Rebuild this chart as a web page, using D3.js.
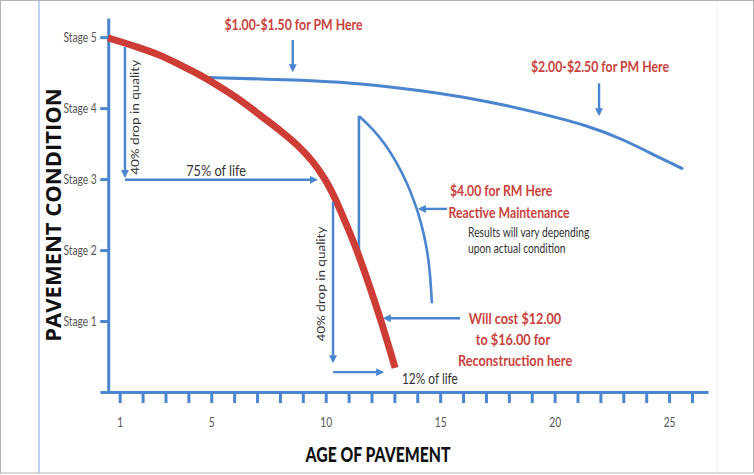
<!DOCTYPE html>
<html>
<head>
<meta charset="utf-8">
<script src="https://cdn.jsdelivr.net/npm/d3@7"></script>
<style>
  html, body { margin: 0; padding: 0; background: #fff; }
  svg { display: block; font-family: Lato, "Liberation Sans", sans-serif; }
</style>
</head>
<body>
<svg id="chart" width="754" height="475"></svg>
<script>
// pavement deterioration with no maintenance (red)
const agingYear  = [0.49, 1.89, 2.76, 3.63, 4.51, 5.38, 6.26, 7.13, 8.00, 8.88, 9.44, 9.97, 10.45, 11.06, 11.41, 11.93, 12.59, 13.03];
const agingStage = [4.99, 4.85, 4.75, 4.61, 4.47, 4.30, 4.12, 3.90, 3.69, 3.45, 3.25, 3.01, 2.71, 2.24, 1.96, 1.48, 0.83, 0.34];

// preventive maintenance curve
const pmYear  = [4.95, 8.44, 10.62, 12.81, 14.99, 17.18, 19.36, 21.54, 22.99, 24.47, 25.56];
const pmStage = [4.43, 4.40, 4.37, 4.30, 4.21, 4.09, 3.93, 3.745, 3.56, 3.32, 3.15];

// reactive maintenance: jump up at year 11.45, then curve down
const rmJumpYear  = [11.45, 11.45];
const rmJumpStage = [1.92, 3.89];
const rmYear  = [11.45, 12.02, 12.59, 13.11, 13.55, 13.90, 14.16, 14.42, 14.56, 14.64];
const rmStage = [3.89, 3.72, 3.50, 3.23, 2.95, 2.66, 2.40, 2.04, 1.68, 1.25];

// axes
const xTickYears  = [1,2,3,4,5,6,7,8,9,10,11,12,13,14,15,16,17,18,19,20,21,22,23,24,25,26];
const xLabelYears = [1, 5, 10, 15, 20, 25];
const stageTicks  = [1, 2, 3, 4, 5];
const stageLabels = ["Stage 1", "Stage 2", "Stage 3", "Stage 4", "Stage 5"];

// arrows (year, stage)
const arrows = [
  {x1: 8.56,  y1: 4.96, x2: 8.56,  y2: 4.54},
  {x1: 21.94, y1: 4.35, x2: 21.94, y2: 3.92},
  {x1: 1.23,  y1: 4.86, x2: 1.23,  y2: 3.05},
  {x1: 1.23,  y1: 2.99, x2: 9.55,  y2: 2.99},
  {x1: 10.32, y1: 2.68, x2: 10.32, y2: 0.44},
  {x1: 10.32, y1: 0.28, x2: 12.45, y2: 0.28},
  {x1: 15.3,  y1: 2.58, x2: 14.13, y2: 2.58},
  {x1: 15.87, y1: 1.04, x2: 12.6,  y2: 1.04}
];

// red annotations (year, stage of baseline)
const redNotes = [
  {text: "$1.00-$1.50 for PM Here", year: 8.59,  stage: 5.10, size: 15},
  {text: "$2.00-$2.50 for PM Here", year: 21.98, stage: 4.51, size: 15},
  {text: "$4.00 for RM Here",       year: 17.66, stage: 2.76, size: 15},
  {text: "Reactive Maintenance",    year: 18.01, stage: 2.45, size: 15},
  {text: "Will cost $12.00",        year: 18.27, stage: 0.96, size: 15.5},
  {text: "to $16.00 for",           year: 18.18, stage: 0.66, size: 15.5},
  {text: "Reconstruction here",     year: 18.27, stage: 0.37, size: 15.5}
];

// dark annotations
const darkNotes = [
  {text: "75% of life",                 year: 5.21,  stage: 3.04, size: 15.5, anchor: "middle"},
  {text: "12% of life",                 year: 13.33, stage: 0.11, size: 14.5, anchor: "start"},
  {text: "Results will vary depending", year: 16.22, stage: 2.18, size: 12.5, anchor: "start"},
  {text: "upon actual condition",       year: 16.22, stage: 1.96, size: 12.5, anchor: "start"}
];

// rotated "40% drop" labels
const dropNotes = [
  {text: "40% drop in quality", year: 1.85, stage: 3.87},
  {text: "40% drop in quality", year: 9.96, stage: 1.52}
];

const blue = "#4a85cf", red = "#cd3c35", redText = "#c9433d", dark = "#333";
const squeeze = 0.82;

const svg = d3.select("#chart");
const x = d3.scaleLinear().domain([0.14, 26.7]).range([100, 708]);
const y = d3.scaleLinear().domain([0, 5.27]).range([392, 18]);

// frame
svg.append("rect").attr("x", 0.5).attr("y", 0.5).attr("width", 753).attr("height", 472.5)
  .attr("fill", "#fff").attr("stroke", "#b4b4b4");
svg.append("line").attr("x1", 39).attr("x2", 39).attr("y1", 1).attr("y2", 473)
  .attr("stroke", "#a9c5ea").attr("stroke-width", 1.5);
svg.append("line").attr("x1", 717).attr("x2", 717).attr("y1", 1).attr("y2", 473)
  .attr("stroke", "#eef3fa").attr("stroke-width", 1);

svg.append("defs").append("marker")
  .attr("id", "head").attr("viewBox", "0 0 10 10")
  .attr("refX", 7).attr("refY", 5)
  .attr("markerWidth", 8).attr("markerHeight", 8)
  .attr("markerUnits", "userSpaceOnUse").attr("orient", "auto")
  .append("path").attr("d", "M0,0L10,5L0,10Z").attr("fill", blue);

// axes
const xAxis = svg.append("g")
  .attr("transform", `translate(0,${y(0)})`)
  .call(d3.axisBottom(x).tickValues(xTickYears).tickSize(11).tickSizeOuter(0).tickPadding(15)
    .tickFormat(d => xLabelYears.includes(d) ? d : ""));

const yAxis = svg.append("g")
  .attr("transform", `translate(${x(0.5)},0)`)
  .call(d3.axisLeft(y).tickValues(stageTicks).tickSize(8).tickSizeOuter(0).tickPadding(6)
    .tickFormat((d, i) => stageLabels[i]));

[xAxis, yAxis].forEach(g => {
  g.selectAll(".domain, .tick line").attr("stroke", blue).attr("stroke-width", 3);
  g.selectAll(".tick text").attr("fill", "#555").attr("font-size", 12.5)
    .attr("font-family", "Lato, sans-serif").attr("transform", `scale(${squeeze},1)`);
});

// axis titles
svg.append("text").text("AGE OF PAVEMENT")
  .attr("transform", `translate(378,462) scale(0.75,1)`)
  .attr("text-anchor", "middle").attr("font-size", 21).attr("font-weight", 900).attr("fill", "#111");
svg.append("text").text("PAVEMENT CONDITION")
  .attr("transform", "translate(61,215) rotate(-90)")
  .attr("text-anchor", "middle").attr("font-family", "'Open Sans', sans-serif")
  .attr("font-size", 22).attr("font-weight", 700).attr("fill", "#111");

// curves
const pts = (xs, ys) => xs.map((v, i) => [v, ys[i]]);
const smooth = d3.line().x(d => x(d[0])).y(d => y(d[1])).curve(d3.curveBasis);
const straight = d3.line().x(d => x(d[0])).y(d => y(d[1]));

svg.append("path").attr("d", straight(pts(rmJumpYear, rmJumpStage)))
  .attr("fill", "none").attr("stroke", blue).attr("stroke-width", 2.6);
svg.append("path").attr("d", smooth(pts(rmYear, rmStage)))
  .attr("fill", "none").attr("stroke", blue).attr("stroke-width", 2.6);

svg.append("path").attr("d", smooth(pts(pmYear, pmStage)))
  .attr("fill", "none").attr("stroke", blue).attr("stroke-width", 3).attr("stroke-linecap", "round");

svg.append("path").attr("d", smooth(pts(agingYear, agingStage)))
  .attr("fill", "none").attr("stroke", red).attr("stroke-width", 7);

// arrows
svg.selectAll("line.arrow").data(arrows).enter().append("line")
  .attr("class", "arrow")
  .attr("x1", d => x(d.x1)).attr("y1", d => y(d.y1))
  .attr("x2", d => x(d.x2)).attr("y2", d => y(d.y2))
  .attr("stroke", blue).attr("stroke-width", 2.4)
  .attr("marker-end", "url(#head)");

// notes
svg.selectAll("text.red").data(redNotes).enter().append("text")
  .attr("class", "red").text(d => d.text)
  .attr("transform", d => `translate(${x(d.year)},${y(d.stage)}) scale(${squeeze},1)`)
  .attr("text-anchor", "middle").attr("font-size", d => d.size)
  .attr("font-weight", 700).attr("fill", redText);

svg.selectAll("text.dark").data(darkNotes).enter().append("text")
  .attr("class", "dark").text(d => d.text)
  .attr("transform", d => `translate(${x(d.year)},${y(d.stage)}) scale(${squeeze},1)`)
  .attr("text-anchor", d => d.anchor).attr("font-size", d => d.size).attr("fill", dark);

svg.selectAll("text.drop").data(dropNotes).enter().append("text")
  .attr("class", "drop").text(d => d.text)
  .attr("transform", d => `translate(${x(d.year)},${y(d.stage)}) scale(${squeeze},1) rotate(-90)`)
  .attr("text-anchor", "middle").attr("font-size", 13.5).attr("fill", dark);
</script>
</body>
</html>
